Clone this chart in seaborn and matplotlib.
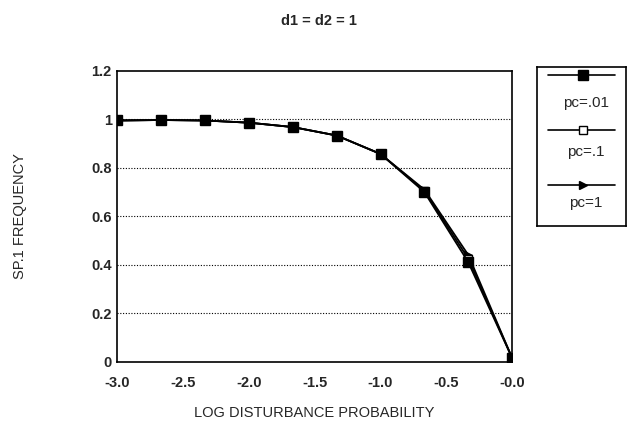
import matplotlib
matplotlib.use('Agg')
import matplotlib.pyplot as plt
import seaborn as sns
import pandas as pd

# ========= data =======================
log_p = [-3.0, -2.667, -2.333, -2.0, -1.667, -1.333, -1.0, -0.667, -0.333, 0.0]
freq_pc001 = [0.995, 0.997, 0.995, 0.986, 0.968, 0.933, 0.857, 0.700, 0.410, 0.015]
freq_pc01 = [0.995, 0.997, 0.995, 0.986, 0.968, 0.933, 0.857, 0.705, 0.425, 0.015]
freq_pc1 = [0.995, 0.997, 0.995, 0.986, 0.968, 0.933, 0.857, 0.710, 0.440, 0.015]
series_names = ['pc=.01', 'pc=.1', 'pc=1']
x_ticks = [-3.0, -2.5, -2.0, -1.5, -1.0, -0.5, 0.0]
x_tick_labels = ['-3.0', '-2.5', '-2.0', '-1.5', '-1.0', '-0.5', '-0.0']
y_ticks = [0, 0.2, 0.4, 0.6, 0.8, 1.0, 1.2]
y_tick_labels = ['0', '0.2', '0.4', '0.6', '0.8', '1', '1.2']

df = pd.DataFrame({
    'log_p': log_p * 3,
    'freq': freq_pc001 + freq_pc01 + freq_pc1,
    'series': [s for s in series_names for _ in log_p],
})

# =========== style =================
sns.set_style('white')
plt.rcParams['font.family'] = ['Liberation Sans', 'DejaVu Sans']

styles = {
    'pc=.01': dict(marker='s', mfc='black', ms=7),
    'pc=.1': dict(marker='s', mfc='white', ms=6),
    'pc=1': dict(marker='>', mfc='black', ms=6),
}

fig = plt.figure(figsize=(6.37, 4.24), dpi=100)
ax = fig.add_axes([0.184, 0.147, 0.620, 0.686])

for name in series_names[::-1]:
    sub = df[df['series'] == name]
    st = styles[name]
    sns.lineplot(data=sub, x='log_p', y='freq', ax=ax, color='black', lw=1.3,
                 marker=st['marker'], markersize=st['ms'],
                 markerfacecolor=st['mfc'], markeredgecolor='black',
                 markeredgewidth=1.0, legend=False)

ax.set_xlim(-3.0, 0.0)
ax.set_ylim(0, 1.2)
ax.set_xticks(x_ticks)
ax.set_xticklabels(x_tick_labels, fontsize=10.5, fontweight='bold')
ax.set_yticks(y_ticks)
ax.set_yticklabels(y_tick_labels, fontsize=10.5, fontweight='bold')
ax.tick_params(axis='x', direction='out', length=5, width=1, pad=5)
ax.tick_params(axis='y', direction='out', length=0, pad=4)
for yv in y_ticks[1:-1]:
    ax.axhline(yv, color='black', lw=0.8, ls=(0, (1, 1.5)), zorder=0)
for sp in ax.spines.values():
    sp.set_color('black')
    sp.set_linewidth(1.2)

ax.set_xlabel('LOG DISTURBANCE PROBABILITY', fontsize=10.5, labelpad=12)
ax.set_ylabel('SP.1 FREQUENCY', fontsize=10.5, labelpad=46)
fig.text(0.5, 0.950, 'd1 = d2 = 1', ha='center', va='center',
         fontsize=10.5, fontweight='bold')

# ============ legend box ========
lax = fig.add_axes([0.843, 0.467, 0.140, 0.375])
lax.set_xlim(0, 1)
lax.set_ylim(0, 1)
lax.set_xticks([])
lax.set_yticks([])
for sp in lax.spines.values():
    sp.set_color('black')
    sp.set_linewidth(1.2)
line_y = [0.947, 0.604, 0.258]
label_y = [0.774, 0.465, 0.145]
for name, ly, ty in zip(series_names, line_y, label_y):
    st = styles[name]
    lax.plot([0.12, 0.88], [ly, ly], color='black', lw=1.2)
    lax.plot([0.52], [ly], marker=st['marker'], ms=st['ms'], mfc=st['mfc'],
             mec='black', color='black')
    lax.text(0.55, ty, name, ha='center', va='center', fontsize=11)

fig.savefig('out.png', dpi=100)
